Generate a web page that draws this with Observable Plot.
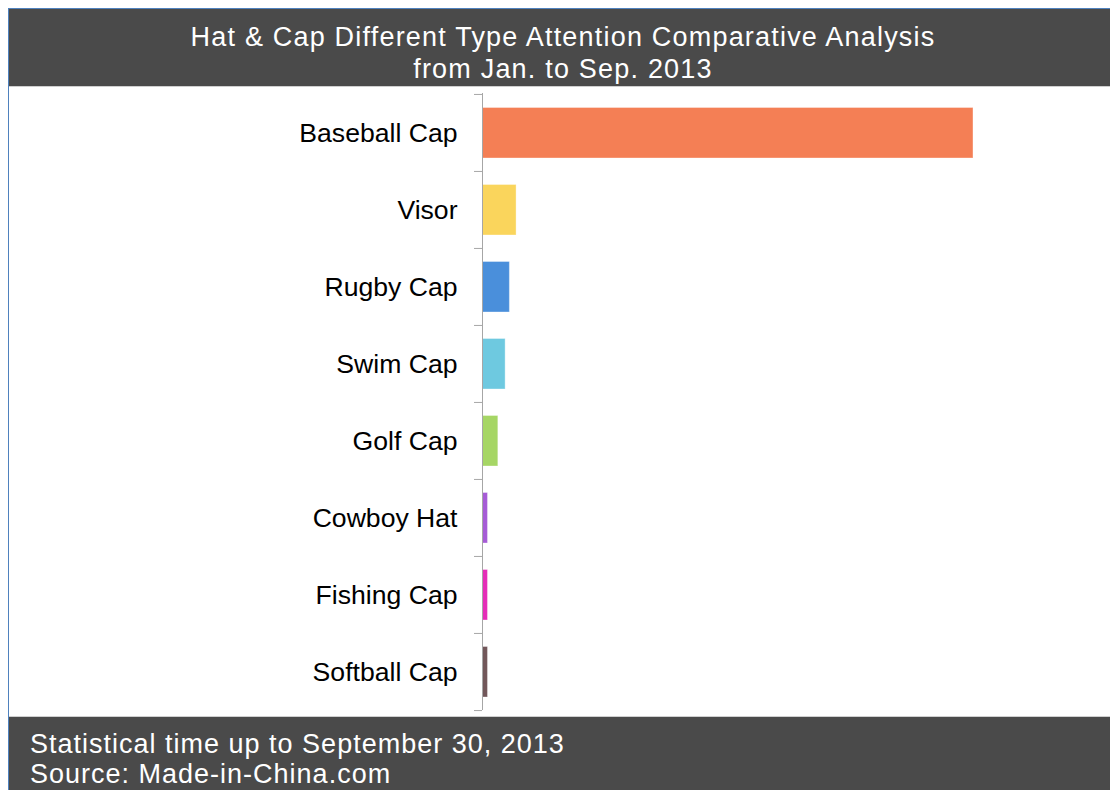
<!DOCTYPE html>
<html>
<head>
<meta charset="utf-8">
<script src="https://cdn.jsdelivr.net/npm/d3@7"></script>
<script src="https://cdn.jsdelivr.net/npm/@observablehq/plot@0.6"></script>
<style>
  html, body { margin: 0; padding: 0; background: #fff; }
  #frame { position: relative; width: 1110px; height: 790px; overflow: hidden; font-family: "Liberation Sans", Arial, sans-serif; }
  #border { position: absolute; left: 8px; top: 8px; right: 0; bottom: 0; border-left: 1px solid #4f81bd; border-top: 1px solid #4f81bd; }
  #header { position: absolute; left: 9px; top: 9px; width: 1094px; padding-left: 7px; height: 77px; background: #4a4a4a; color: #fff; text-align: center; font-size: 27px; letter-spacing: 1.2px; line-height: 32px; box-sizing: content-box; border-bottom: 1px solid #cfcfcf; }
  #header .inner { padding-top: 12px; }
  #chart { position: absolute; left: 0; top: 86px; }
  #footer { position: absolute; left: 9px; top: 716px; width: 1101px; height: 74px; background: #4a4a4a; color: #fff; font-size: 27px; letter-spacing: 1px; line-height: 29.5px; border-top: 1px solid #cfcfcf; }
  #footer .inner { padding-top: 13px; padding-left: 21px; }
</style>
</head>
<body>
<div id="frame">
  <div id="border"></div>
  <div id="header"><div class="inner">Hat &amp; Cap Different Type Attention Comparative Analysis<br>from Jan. to Sep. 2013</div></div>
  <div id="chart"></div>
  <div id="footer"><div class="inner">Statistical time up to September 30, 2013<br>Source: Made-in-China.com</div></div>
</div>
<script>
const categories = ["Baseball Cap", "Visor", "Rugby Cap", "Swim Cap", "Golf Cap", "Cowboy Hat", "Fishing Cap", "Softball Cap"];
const shares = [80.7, 5.6, 4.5, 3.8, 2.6, 0.9, 0.9, 0.9];
const colors = ["#F47F55", "#FAD55C", "#4A8FDB", "#6EC9E0", "#A6D665", "#A65BD6", "#E52DB8", "#72575A"];

const data = categories.map((c, i) => ({category: c, share: shares[i]}));

const height = 631, marginTop = 7, marginBottom = 7;
const step = (height - marginTop - marginBottom) / categories.length;

const chart = Plot.plot({
  width: 1110,
  height,
  marginLeft: 482,
  marginRight: 19.6,
  marginTop,
  marginBottom,
  style: {background: "transparent", fontFamily: "'Liberation Sans', Arial, sans-serif"},
  x: {domain: [0, 100], axis: null},
  y: {domain: categories, padding: 0},
  color: {domain: categories, range: colors},
  marks: [
    Plot.barX(data, {x: "share", y: "category", fill: "category", insetTop: 13.5, insetBottom: 13, stroke: "#fff", strokeOpacity: 0.35, strokeWidth: 1}),
    Plot.axisY({label: null, tickSize: 0, tickPadding: 25, fontSize: 26.6, fill: "#000"}),
    Plot.axisY({label: null, tickSize: 8, tickFormat: () => "", stroke: "#a6a6a6", dy: -step / 2}),
    Plot.axisY(categories.slice(-1), {label: null, tickSize: 8, tickFormat: () => "", stroke: "#a6a6a6", dy: step / 2}),
    Plot.ruleX([0], {stroke: "#a6a6a6"})
  ]
});
document.getElementById("chart").appendChild(chart);
</script>
</body>
</html>
